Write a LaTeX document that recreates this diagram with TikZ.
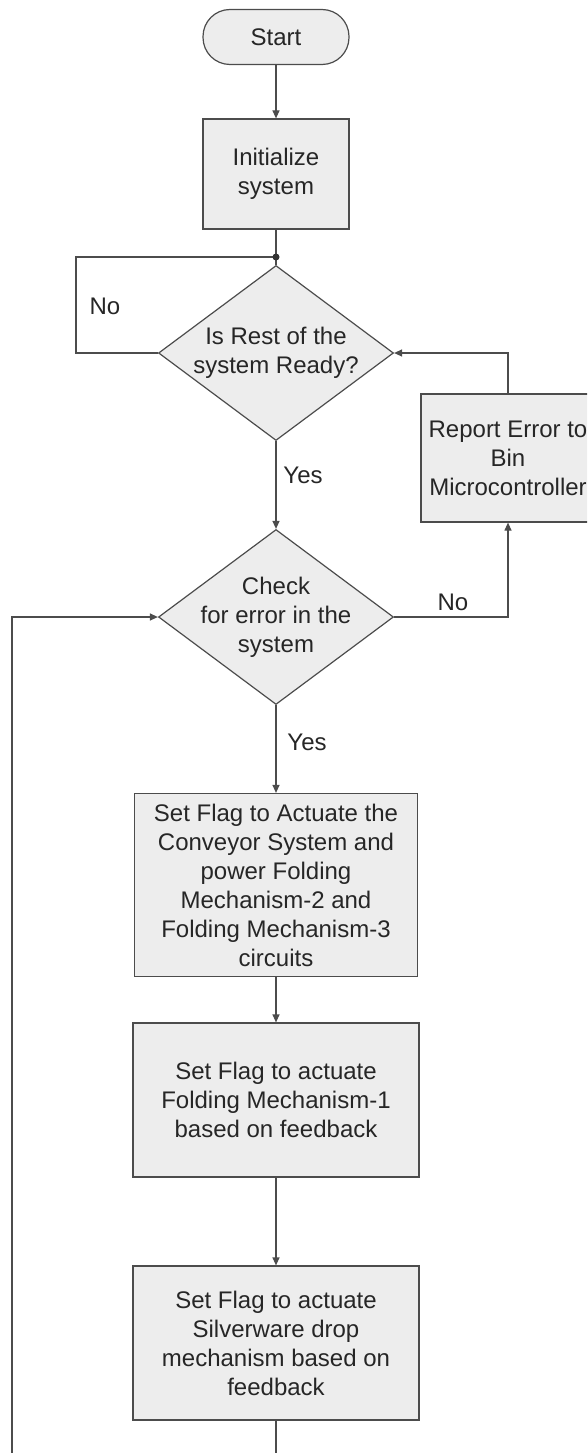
\documentclass[tikz,border=0pt]{standalone}
\usepackage{fontspec}
\setmainfont{Liberation Sans}
\usetikzlibrary{shapes.geometric,arrows.meta}

\begin{document}
\begin{tikzpicture}[
  x=1pt, y=-1pt,
  >={Triangle[length=8pt,width=7pt]},
  every node/.style={font=\fontsize{24}{29}\selectfont, text=black!85},
  line/.style={draw=black!70, line width=1.2pt},
  box/.style={line, fill=black!7, rectangle, align=center, inner sep=2pt},
  terminal/.style={box, rounded corners=27pt, minimum width=146pt, minimum height=55pt},
  decision/.style={line, fill=black!7, diamond, aspect=1.34, inner sep=-14pt,
    align=center, minimum width=235pt, minimum height=175pt},
  lbl/.style={inner sep=1pt}
]
  \useasboundingbox (0,0) rectangle (587,1453);
  \clip (0,0) rectangle (587,1453);

  \node[terminal] (start) at (276,37) {Start};
  \node[box, minimum width=146pt, minimum height=110pt] (init) at (276,174) {Initialize\\system};
  \coordinate (join) at (276,257);
  \node[decision] (ready) at (276,353) {Is Rest of the\\system Ready?};
  \node[box, minimum width=174pt, minimum height=128pt] (err) at (508,458)
    {Report Error to\\Bin\\Microcontroller};
  \node[decision] (check) at (276,617) {Check\\for error in the\\system};
  \node[box, minimum width=283pt, minimum height=183pt] (flag1) at (276,885)
    {Set Flag to Actuate the\\Conveyor System and\\power Folding\\Mechanism-2 and\\Folding Mechanism-3\\circuits};
  \node[box, minimum width=286pt, minimum height=154pt] (flag2) at (276,1100)
    {Set Flag to actuate\\Folding Mechanism-1\\based on feedback};
  \node[box, minimum width=286pt, minimum height=154pt] (flag3) at (276,1343)
    {Set Flag to actuate\\Silverware drop\\mechanism based on\\feedback};

  % loop back, runs out of the page
  \coordinate (lowR) at (276,1480);
  \coordinate (lowL) at (12,1480);

  \draw[line, ->] (start) -- (init);
  \draw[line] (init) -- (ready);
  \draw[line] (ready.west) -- (76,353) |- (join);
  \fill[black!80] (join) circle (3.5pt);
  \node[lbl] (no1) at (105,306) {No};
  \draw[line, ->] (ready) -- (check);
  \node[lbl] (yes1) at (303,475) {Yes};
  \draw[line, ->] (check.east) -| (err.south);
  \node[lbl] (no2) at (453,602) {No};
  \draw[line, ->] (err.north) |- (ready.east);
  \draw[line, ->] (check) -- (flag1);
  \node[lbl] (yes2) at (307,742) {Yes};
  \draw[line, ->] (flag1) -- (flag2);
  \draw[line, ->] (flag2) -- (flag3);
  \draw[line, ->] (flag3) -- (lowR) -- (lowL) |- (check.west);
\end{tikzpicture}
\end{document}
